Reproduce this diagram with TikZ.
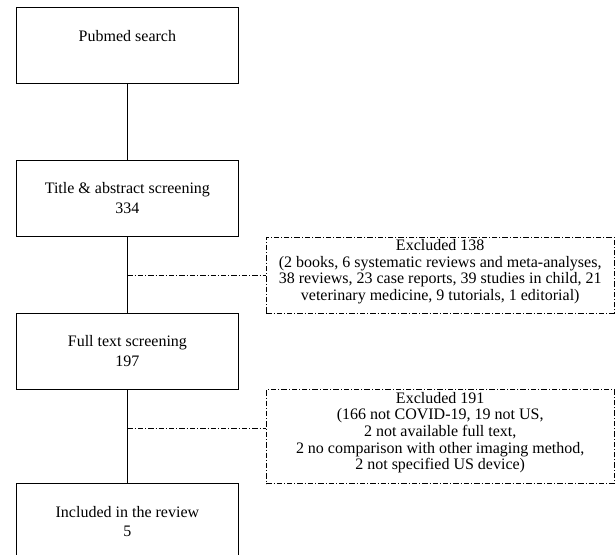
\documentclass[tikz,border=0pt]{standalone}
\usepackage{fontspec}
\setmainfont{Liberation Serif}
\usetikzlibrary{positioning}

\tikzset{
  stage/.style={draw, line width=0.6pt, minimum width=166.5pt, minimum height=57pt, inner sep=0pt},
  stagetext/.style={align=center, inner sep=0pt, font=\fontsize{12}{14.6}\selectfont},
  dashdot/.style={dash pattern=on 4pt off 1.5pt on 0.8pt off 1.5pt},
  excl/.style={draw, line width=0.6pt, dashdot, minimum width=261pt, inner sep=0pt},
  excltext/.style={align=center, inner sep=0pt, font=\fontsize{12}{12.4}\selectfont},
  flow/.style={draw, line width=0.6pt},
}

\begin{document}
\begin{tikzpicture}[x=0.75pt, y=-0.75pt]
    \useasboundingbox (0,0) rectangle (615,555);

    % main column
    \node[stage, anchor=north west] (search) at (16,7) {};
    \node[stage, below=57pt of search] (title) {};
    \node[stage, below=57pt of title] (fulltext) {};
    \node[stage, below=70.5pt of fulltext] (included) {};

    \node[stagetext, below=17pt of search.north] (search-t) {Pubmed search};
    \node[stagetext, below=17pt of title.north] (title-t) {Title \& abstract screening\\334};
    \node[stagetext, below=17pt of fulltext.north] (fulltext-t) {Full text screening\\197};
    \node[stagetext, below=17pt of included.north] (included-t) {Included in the review\\5};

    % exclusions
    \node[excl, minimum height=57pt, below right=0pt and 20.25pt of title.south east] (excl1) {};
    \node[excl, minimum height=70.5pt, below right=0pt and 20.25pt of fulltext.south east] (excl2) {};

    \node[excltext, below=2pt of excl1.north] (excl1-t) {Excluded 138\\(2 books, 6 systematic reviews and meta-analyses,\\38 reviews, 23 case reports, 39 studies in child, 21\\veterinary medicine, 9 tutorials, 1 editorial)};
    \node[excltext, below=2pt of excl2.north] (excl2-t) {Excluded 191\\(166 not COVID-19, 19 not US,\\2 not available full text,\\2 no comparison with other imaging method,\\2 not specified US device)};

    \draw[flow] (search) -- (title);
    \draw[flow] (title) -- (fulltext);
    \draw[flow] (fulltext) -- (included);

    \coordinate (cut1) at (excl1.west);
    \coordinate (cut2) at ([yshift=6pt]excl2.west);
    \draw[flow, dashdot] (cut1 -| title.south) -- (cut1);
    \draw[flow, dashdot] (cut2 -| fulltext.south) -- (cut2);
\end{tikzpicture}
\end{document}
